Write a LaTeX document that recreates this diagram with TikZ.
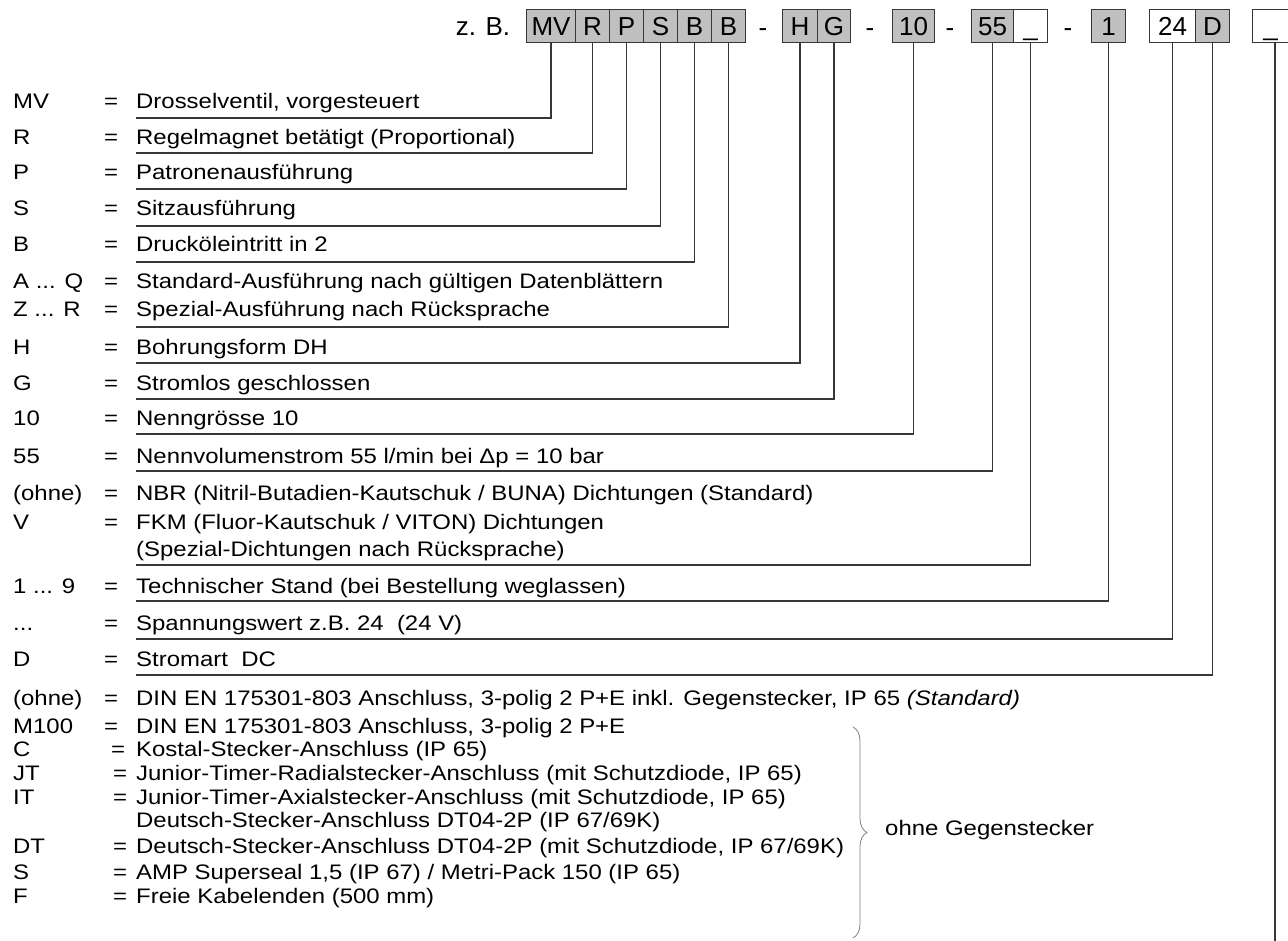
\documentclass[tikz,border=0pt]{standalone}
\usepackage{fontspec}
\setmainfont{Liberation Sans}[FakeStretch=1.14]
\newfontfamily\codefont{Liberation Sans}
\usetikzlibrary{decorations.pathreplacing}
\definecolor{boxgray}{RGB}{192,192,192}
\definecolor{linegray}{RGB}{55,55,55}
\tikzstyle{codebox}=[draw=linegray,fill=boxgray,line width=1pt,minimum height=33pt,inner sep=0pt,text height=18.6pt,text depth=0pt,anchor=west]
\tikzstyle{blankbox}=[codebox,fill=white]
\tikzstyle{codetext}=[font=\codefont\fontsize{26}{30}\selectfont]
\tikzstyle{leader}=[draw=linegray,line width=1.2pt]
\tikzstyle{lbl}=[anchor=base west,inner sep=0pt]
\tikzstyle{gsbrace}=[decorate,decoration={brace,amplitude=14pt},draw=gray,line width=0.8pt]
\newcommand{\legendrow}[5]{% name, baseline, key, x of =, text
  \node[lbl] (k-#1) at (13,#2) {#3};
  \node[lbl,anchor=base] (e-#1) at (#4,#2) {=};
  \node[lbl] (t-#1) at (136,#2) {#5};
}
\begin{document}
\begin{tikzpicture}[x=1pt,y=-1pt,font=\fontsize{21}{25}\selectfont]
  \useasboundingbox (0,0) rectangle (1288,941);
  % type code
  \begin{scope}[codetext]
  \node (zb) at (483,26.5) {z. B.};
  \foreach \nm/\xl/\bw/\txt/\st in {mv/526/49/MV/codebox, r/575/34/R/codebox, p/609/34/P/codebox,
      s/643/34/S/codebox, b1/677/34/B/codebox, b2/711/34/B/codebox, h/782/35/H/codebox, g/817/33/G/codebox,
      nn/892/42/10/codebox, vs/971/42/55/codebox, dk/1013/34/\_/blankbox, ts/1091/34/1/codebox,
      uv/1149/46/24/blankbox, ud/1195/34/D/codebox, an/1252/36/\_/blankbox}
    \node[\st,minimum width=\bw pt] (\nm) at (\xl,26.5) {\txt};
  \foreach \xd [count=\i] in {763,870,950,1068}
    \node (dash\i) at (\xd,33) {-};
  \end{scope}

  % legend
  \legendrow{mv}{109}{MV}{111}{Drosselventil, vorgesteuert}
  \legendrow{r}{145}{R}{111}{Regelmagnet betätigt (Proportional)}
  \legendrow{p}{180}{P}{111}{Patronenausführung}
  \legendrow{s}{216}{S}{111}{Sitzausführung}
  \legendrow{b1}{252}{B}{111}{Drucköleintritt in 2}
  \legendrow{aq}{289}{A ... Q}{111}{Standard-Ausführung nach gültigen Datenblättern}
  \legendrow{b2}{317}{Z ... R}{111}{Spezial-Ausführung nach Rücksprache}
  \legendrow{h}{354}{H}{111}{Bohrungsform DH}
  \legendrow{g}{390}{G}{111}{Stromlos geschlossen}
  \legendrow{nn}{425}{10}{111}{Nenngrösse 10}
  \legendrow{vs}{463}{55}{111}{Nennvolumenstrom 55 l/min bei Δp = 10 bar}
  \legendrow{nbr}{500}{(ohne)}{111}{NBR (Nitril-Butadien-Kautschuk / BUNA) Dichtungen (Standard)}
  \legendrow{dk}{529}{V}{111}{FKM (Fluor-Kautschuk / VITON) Dichtungen}
  \node[lbl] (t-dk2) at (136,556) {(Spezial-Dichtungen nach Rücksprache)};
  \legendrow{ts}{593}{1 ... 9}{111}{Technischer Stand (bei Bestellung weglassen)}
  \legendrow{uv}{630}{...}{111}{Spannungswert z.B. 24\ \ (24 V)}
  \legendrow{ud}{666}{D}{111}{Stromart\ \ DC}
  \legendrow{din}{705}{(ohne)}{111}{DIN EN 175301-803 Anschluss, 3-polig 2 P+E inkl. Gegenstecker, IP 65 \textit{(Standard)}}
  \legendrow{m1}{733}{M100}{111}{DIN EN 175301-803 Anschluss, 3-polig 2 P+E}
  \legendrow{kc}{756}{C}{118}{Kostal-Stecker-Anschluss (IP 65)}
  \legendrow{jt}{780}{JT}{120}{Junior-Timer-Radialstecker-Anschluss (mit Schutzdiode, IP 65)}
  \legendrow{it}{804}{IT}{120}{Junior-Timer-Axialstecker-Anschluss (mit Schutzdiode, IP 65)}
  \node[lbl] (t-it2) at (136,827) {Deutsch-Stecker-Anschluss DT04-2P (IP 67/69K)};
  \legendrow{dt}{853}{DT}{120}{Deutsch-Stecker-Anschluss DT04-2P (mit Schutzdiode, IP 67/69K)}
  \legendrow{sa}{879}{S}{120}{AMP Superseal 1,5 (IP 67) / Metri-Pack 150 (IP 65)}
  \legendrow{fr}{903}{F}{120}{Freie Kabelenden (500 mm)}

  % leaders from the code boxes
  \foreach \nm/\yy in {mv/118, r/153, p/189, s/226, b1/262, b2/327, h/363, g/399,
      nn/434, vs/471, dk/565, ts/601, uv/639, ud/675} {
    \coordinate (u-\nm) at (136,\yy);
    \draw[leader] (\nm.south) |- (u-\nm);
  }
  \coordinate (u-an) at (1275,941);
  \draw[leader] (an.south -| u-an) -- (u-an);

  % connectors without mating plug
  \draw[gsbrace] (853,727) -- (853,938);
  \node[lbl,anchor=west] (ohne) at (885,830) {ohne Gegenstecker};
\end{tikzpicture}
\end{document}
